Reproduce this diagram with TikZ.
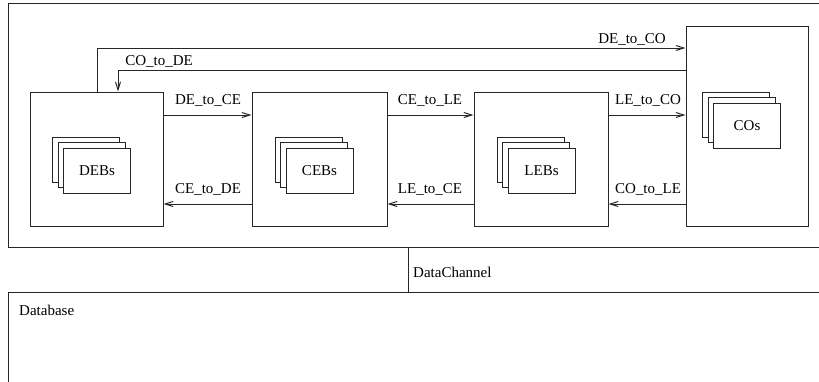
\documentclass[tikz,border=0pt]{standalone}
\usepackage{fontspec}
\setmainfont{Liberation Serif}
\usetikzlibrary{arrows.meta}
\begin{document}
\begin{tikzpicture}[x=1pt,y=-1pt,
  line/.style={line width=1pt,draw=black!85},
  arr/.style={line, -{Straight Barb[length=8pt,width=5pt]}},
  bigbox/.style={line},
  layer/.style={line,fill=white},
  lbl/.style={font=\fontsize{15}{17}\selectfont,anchor=base,inner sep=0pt},
  txt/.style={font=\fontsize{15}{17}\selectfont,anchor=base west,inner sep=0pt}]
\useasboundingbox (0,0) rectangle (819,381);
% outer frame (open on the right)
\draw[line] (825,3) -- (8,3) -- (8,247) -- (825,247);
% database frame
\draw[line] (825,292) -- (8,292) -- (8,385);
\node[txt] (db) at (19,315) {Database};
% data channel
\coordinate (dcTop) at (408,247);
\coordinate (dcBot) at (408,292);
\draw[line] (dcTop) -- (dcBot);
\node[txt] (dc) at (413,277) {DataChannel};
% big boxes
\node[bigbox,draw,minimum width=133pt,minimum height=134pt,inner sep=0pt] (DE) at (96.5,159) {};
\node[bigbox,draw,minimum width=135pt,minimum height=134pt,inner sep=0pt] (CE) at (319.5,159) {};
\node[bigbox,draw,minimum width=134pt,minimum height=134pt,inner sep=0pt] (LE) at (541,159) {};
\node[bigbox,draw,minimum width=122pt,minimum height=200pt,inner sep=0pt] (CO) at (747,126) {};
% stacked inner boxes
\foreach \n/\cx/\cy/\t in {DEBs/97/170.5/DEBs, CEBs/319.5/170.5/CEBs, LEBs/541.5/170.5/LEBs, COs/747/125.5/COs}{
  \node[layer,draw,minimum width=67pt,minimum height=45pt,inner sep=0pt] (\n3) at (\cx-11,\cy-11) {};
  \node[layer,draw,minimum width=67pt,minimum height=45pt,inner sep=0pt] (\n2) at (\cx-5.5,\cy-5.5) {};
  \node[layer,draw,minimum width=67pt,minimum height=45pt,inner sep=0pt,font=\fontsize{15}{17}\selectfont] (\n1) at (\cx,\cy) {\t};
}
% horizontal connectors
\draw[arr] (DE.east |- 0,115) -- (CE.west |- 0,115);
\draw[arr] (CE.west |- 0,204) -- (DE.east |- 0,204);
\draw[arr] (CE.east |- 0,115) -- (LE.west |- 0,115);
\draw[arr] (LE.west |- 0,204) -- (CE.east |- 0,204);
\draw[arr] (LE.east |- 0,115) -- (CO.west |- 0,115);
\draw[arr] (CO.west |- 0,204) -- (LE.east |- 0,204);
\node[lbl] (l1) at (208,104) {DE\_to\_CE};
\node[lbl] (l2) at (208,193) {CE\_to\_DE};
\node[lbl] (l3) at (430,104) {CE\_to\_LE};
\node[lbl] (l4) at (430,193) {LE\_to\_CE};
\node[lbl] (l5) at (648,104) {LE\_to\_CO};
\node[lbl] (l6) at (648,193) {CO\_to\_LE};
% long connectors
\draw[arr] (DE.north -| 97,0) -- (97,48) -- (CO.west |- 0,48);
\draw[arr] (CO.west |- 0,70) -- (118,70) -- (DE.north -| 118,0);
\node[lbl] (l7) at (632,43) {DE\_to\_CO};
\node[lbl] (l8) at (159,65) {CO\_to\_DE};
\end{tikzpicture}
\end{document}
